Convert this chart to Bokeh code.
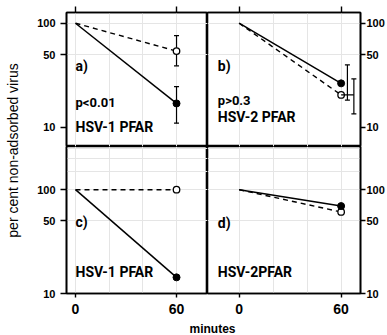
import math
from bokeh.plotting import figure
from bokeh.models import (Range1d, FixedTicker, PrintfTickFormatter, LinearAxis, LogAxis,
                          Whisker, TeeHead, ColumnDataSource, Label)
from bokeh.layouts import gridplot, row, column
from bokeh.embed import file_html
from bokeh.resources import INLINE

# ---------------- data ----------------
minutes = [0, 60]
x_ticks = [0, 60]
y_ticks = [10, 50, 100]

# a) HSV-1 PFAR
a_solid = [100, 17.0]
a_dashed = [100, 54.0]
a_solid_err = [11.0, 24.6]
a_dashed_err = [39.0, 76.0]
# b) HSV-2 PFAR
b_solid = [100, 26.5]
b_dashed = [100, 20.5]
b_solid_err = [18.3, 39.8]
b_dashed_err = [13.5, 29.2]
b_solid_err_x = 63.7
b_dashed_err_x = 67.5
# c) HSV-1 PFAR
c_solid = [100, 14.3]
c_dashed = [100, 100]
# d) HSV-2 PFAR
d_solid = [100, 69.5]
d_dashed = [100, 61.0]

NARROW = "Roboto"
SANS = "Liberation Sans"

LEFT_X = (-5.35, 78.4)
RIGHT_X = (-18.6, 71.4)
TOP_Y = (6.57, 126.7)
BOT_Y = (10, 260.6)


def panel(xr, yr, width, height, side, top_row):
    p = figure(width=width, height=height, x_range=Range1d(*xr), y_range=Range1d(*yr),
               y_axis_type="log", x_axis_location=None, y_axis_location=None,
               output_backend="svg", toolbar_location=None)
    p.min_border_left = 40 if side == "left" else 0
    p.min_border_right = 25 if side == "right" else 0
    p.min_border_top = 12 if top_row else 0
    p.min_border_bottom = 0 if top_row else 28
    p.outline_line_color = "black"
    p.outline_line_width = 1.6
    p.background_fill_color = "white"
    p.border_fill_color = "white"

    yax = LogAxis(ticker=FixedTicker(ticks=y_ticks, minor_ticks=[]),
                  formatter=PrintfTickFormatter(format="%d"))
    yax.axis_line_color = "black"
    yax.axis_line_width = 1.6
    yax.major_tick_line_width = 1.4
    yax.major_tick_in = 0
    yax.major_tick_out = 6 if side == "left" else 5
    yax.minor_tick_out = 0
    yax.major_label_standoff = 5 if side == "left" else 1
    yax.major_label_text_font = SANS
    yax.major_label_text_font_style = "bold"
    yax.major_label_text_font_size = "11px"
    yax.major_label_text_color = "black"
    p.add_layout(yax, side)

    xax = LinearAxis(ticker=FixedTicker(ticks=x_ticks, minor_ticks=[]))
    xax.axis_line_color = "black"
    xax.axis_line_width = 1.6
    xax.major_tick_line_width = 1.4
    xax.major_tick_in = 0
    xax.minor_tick_out = 0
    if top_row:
        xax.major_tick_out = 6
        xax.major_label_overrides = {0: "", 60: ""}
        xax.major_label_text_font_size = "4px"
        xax.major_label_standoff = 0
        p.add_layout(xax, "above")
    else:
        xax.major_tick_out = 4
        xax.major_label_standoff = 6
        xax.major_label_text_font = SANS
        xax.major_label_text_font_style = "bold"
        xax.major_label_text_font_size = "14px"
        xax.major_label_text_color = "black"
        p.add_layout(xax, "below")
    return p


def series(p, solid, dashed, err_solid=None, err_dashed=None, xs_solid=None, xs_dashed=None):
    p.line(minutes, dashed, line_color="black", line_width=1.4, line_dash="5 4")
    p.line(minutes, solid, line_color="black", line_width=1.5)
    for err, xb in ((err_solid, xs_solid), (err_dashed, xs_dashed)):
        if err is not None:
            src = ColumnDataSource(dict(base=[xb], lower=[err[0]], upper=[err[1]]))
            w = Whisker(base="base", lower="lower", upper="upper", source=src,
                        line_color="black", line_width=1.2,
                        upper_head=TeeHead(size=5, line_width=1.2, line_color="black"),
                        lower_head=TeeHead(size=5, line_width=1.2, line_color="black"))
            p.add_layout(w)
    p.scatter([minutes[-1]], [dashed[-1]], marker="circle", size=6.5,
              fill_color="white", line_color="black", line_width=1.3)
    p.scatter([minutes[-1]], [solid[-1]], marker="circle", size=7,
              fill_color="black", line_color="black")


def lab(p, x, y, text, size="14px"):
    p.add_layout(Label(x=x, y=y, text=text, text_font=NARROW, text_font_style="bold",
                       text_font_size=size, text_color="black", text_align="left",
                       text_baseline="alphabetic"))


pa = panel(LEFT_X, TOP_Y, 181, 146, "left", True)
pb = panel(RIGHT_X, TOP_Y, 180, 146, "right", True)
pc = panel(LEFT_X, BOT_Y, 181, 175, "left", False)
pd = panel(RIGHT_X, BOT_Y, 180, 175, "right", False)

series(pa, a_solid, a_dashed, a_solid_err, a_dashed_err, minutes[-1], minutes[-1])
series(pb, b_solid, b_dashed, b_solid_err, b_dashed_err, b_solid_err_x, b_dashed_err_x)
pb.segment(x0=[minutes[-1]], y0=[b_dashed[-1]], x1=[b_dashed_err_x], y1=[b_dashed[-1]],
           line_color="black", line_width=1.2)
series(pc, c_solid, c_dashed)
series(pd, d_solid, d_dashed)

lab(pa, 0, 39.3, "a)")
lab(pa, 0, 17.4, "p<0.01", "13px")
lab(pa, 0, 10.2, "HSV-1 PFAR")
lab(pb, -12.5, 39.3, "b)")
lab(pb, -12.5, 18.2, "p>0.3", "13px")
lab(pb, -12.5, 12.5, "HSV-2 PFAR")
lab(pc, 0, 48.5, "c)")
lab(pc, 0, 16.0, "HSV-1 PFAR")
lab(pd, -12.5, 47.4, "d)")
lab(pd, -12.5, 16.0, "HSV-2PFAR")

grid = gridplot([[pa, pb], [pc, pd]], toolbar_location=None)


def blank(width, height):
    f = figure(width=width, height=height, x_range=Range1d(0, width), y_range=Range1d(0, height),
               x_axis_location=None, y_axis_location=None, output_backend="svg",
               toolbar_location=None, min_border=0)
    f.outline_line_color = None
    f.xgrid.visible = False
    f.ygrid.visible = False
    return f


ylab = blank(26, 335)
ylab.add_layout(Label(x=12, y=185, text="per cent non-adsorbed virus", angle=math.pi / 2,
                      text_font=SANS, text_font_size="14px", text_color="black",
                      text_align="center", text_baseline="middle"))
xlab = blank(361, 14)
xlab.add_layout(Label(x=186, y=7, text="minutes", text_font=SANS, text_font_style="bold",
                      text_font_size="12px", text_color="black",
                      text_align="center", text_baseline="middle"))

layout = row(ylab, column(grid, xlab))
open("out.html", "w").write(file_html(layout, INLINE))
